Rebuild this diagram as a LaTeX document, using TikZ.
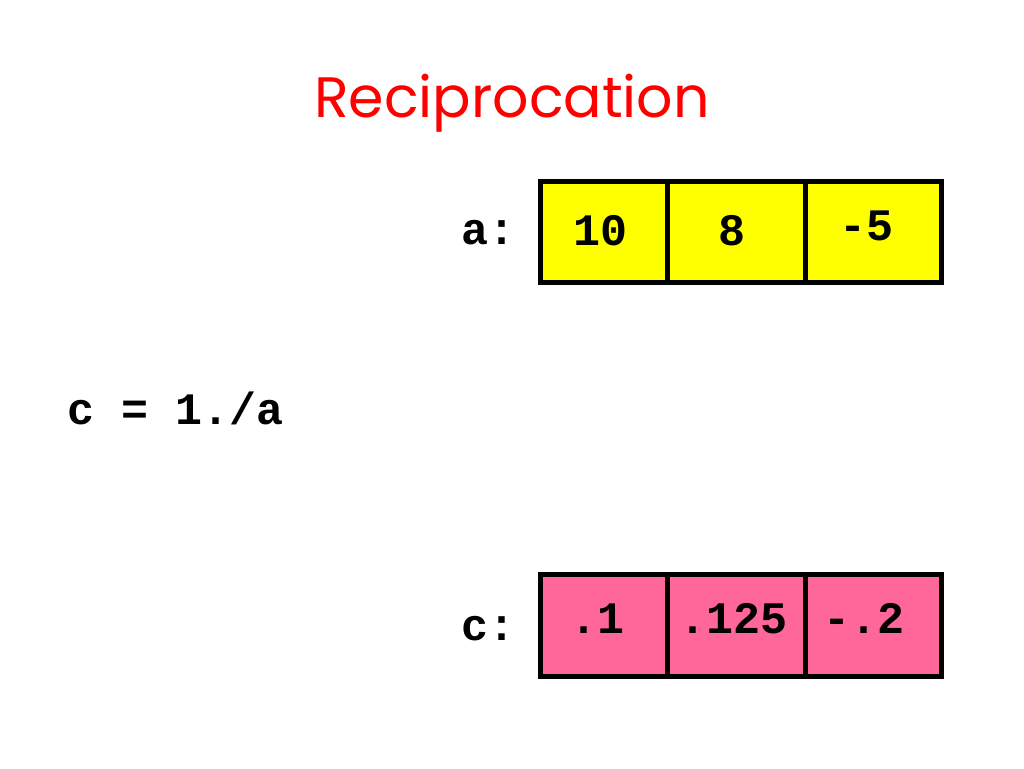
\documentclass[tikz,border=0pt]{standalone}
\usepackage{fontspec}
\setmonofont{Liberation Mono}
\newfontfamily\titlefont{Poppins}
\definecolor{cellyellow}{RGB}{255,255,0}
\definecolor{cellpink}{RGB}{255,102,153}
\definecolor{titlered}{RGB}{255,0,0}
\tikzset{
  cellbox/.style={draw=black, line width=5pt, inner sep=0pt, minimum height=101pt, anchor=north west},
  monotext/.style={inner sep=0pt, anchor=base, font=\fontsize{45}{50}\selectfont\ttfamily\bfseries},
}
\begin{document}
\begin{tikzpicture}[x=1pt,y=-1pt]
\useasboundingbox (0,0) rectangle (1024,768);
\node[inner sep=0pt, anchor=base, text=titlered, font=\fontsize{57}{64}\selectfont\titlefont] (title) at (512,117) {Reciprocation};

% a row
\node[cellbox, fill=cellyellow, minimum width=127pt] (a1) at (538,179) {};
\node[cellbox, fill=cellyellow, minimum width=138pt] (a2) at (665,179) {};
\node[cellbox, fill=cellyellow, minimum width=136pt] (a3) at (803,179) {};
\node[monotext] (alab) at (488,244) {a:};
\node[monotext] (a1t) at (600,245) {10};
\node[monotext] (a2t) at (732,245) {8};
\node[monotext] (a3t) at (866,240) {-5};

% expression
\node[monotext] (expr) at (176,424) {c = 1./a};

% c row
\node[cellbox, fill=cellpink, minimum width=127pt, minimum height=102pt] (c1) at (538,572) {};
\node[cellbox, fill=cellpink, minimum width=138pt, minimum height=102pt] (c2) at (665,572) {};
\node[cellbox, fill=cellpink, minimum width=136pt, minimum height=102pt] (c3) at (803,572) {};
\node[monotext] (clab) at (488,640) {c:};
\node[monotext] (c1t) at (597,633) {.1};
\node[monotext] (c2t) at (733,633) {.125};
\node[monotext] (c3t) at (864,633) {-.2};
\end{tikzpicture}
\end{document}
